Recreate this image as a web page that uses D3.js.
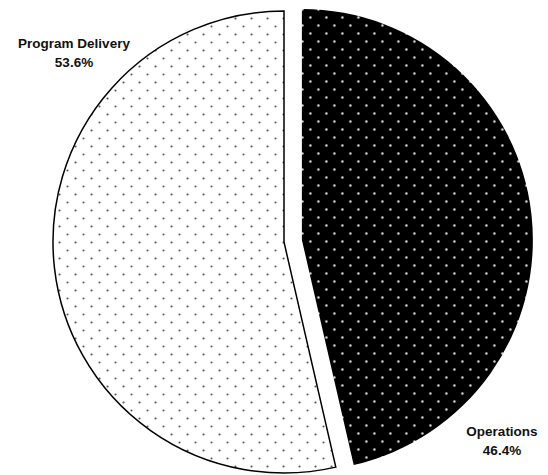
<!DOCTYPE html>
<html>
<head>
<meta charset="utf-8">
<script src="https://cdn.jsdelivr.net/npm/d3@7"></script>
<style>
  html, body { margin: 0; padding: 0; background: #fff; }
  svg { display: block; }
</style>
</head>
<body>
<svg id="chart" width="548" height="475"></svg>
<script>
const categories = ["Operations", "Program Delivery"];
const values = [46.4, 53.6];
const valueLabels = ["46.4%", "53.6%"];

const W = 548, H = 475;
const cx = 284, cy = 242, R = 231, explode = 18;

const svg = d3.select("#chart");
const defs = svg.append("defs");

// dotted patterns
const pDark = defs.append("pattern").attr("id", "patDark")
  .attr("patternUnits", "userSpaceOnUse").attr("width", 16).attr("height", 16);
pDark.append("rect").attr("width", 16).attr("height", 16).attr("fill", "#000");
[[0.5, 9.5], [16.5, 9.5], [8.5, 1.5], [8.5, 17.5]].forEach(p =>
  pDark.append("circle").attr("cx", p[0]).attr("cy", p[1]).attr("r", 1.2).attr("fill", "#ddd"));

const pLight = defs.append("pattern").attr("id", "patLight")
  .attr("patternUnits", "userSpaceOnUse").attr("width", 16).attr("height", 16);
pLight.append("rect").attr("width", 16).attr("height", 16).attr("fill", "#fff");
[[15.5, 0.5], [-0.5, 0.5], [15.5, 16.5], [-0.5, 16.5], [7.5, 8.5]].forEach(p =>
  pLight.append("circle").attr("cx", p[0]).attr("cy", p[1]).attr("r", 1.05).attr("fill", "#555"));

const fills = ["url(#patDark)", "url(#patLight)"];
const strokes = ["none", "#000"];
const explodeBy = [explode, 0];

const pie = d3.pie().sort(null).value(d => d)(values);
const arc = d3.arc().innerRadius(0).outerRadius(R);

const g = svg.append("g").attr("transform", `translate(${cx},${cy})`);

g.selectAll("path.slice").data(pie).join("path")
  .attr("class", "slice")
  .attr("d", arc)
  .attr("transform", (d, i) => {
    const a = (d.startAngle + d.endAngle) / 2;
    return `translate(${Math.sin(a) * explodeBy[i]},${-Math.cos(a) * explodeBy[i]})`;
  })
  .attr("fill", (d, i) => fills[i])
  .attr("stroke", (d, i) => strokes[i])
  .attr("stroke-width", 1.5)
  .attr("stroke-linejoin", "miter");

// labels
const labelPos = [[502, 436], [74, 48]];
const lab = svg.append("g")
  .attr("font-family", "Liberation Sans, Arial, sans-serif")
  .attr("font-weight", "bold")
  .attr("font-size", 13.5)
  .attr("fill", "#111")
  .attr("text-anchor", "middle");

categories.forEach((c, i) => {
  const t = lab.append("text").attr("x", labelPos[i][0]).attr("y", labelPos[i][1]);
  t.append("tspan").attr("x", labelPos[i][0]).text(c);
  t.append("tspan").attr("x", labelPos[i][0]).attr("dy", 19).text(valueLabels[i]);
});
</script>
</body>
</html>
